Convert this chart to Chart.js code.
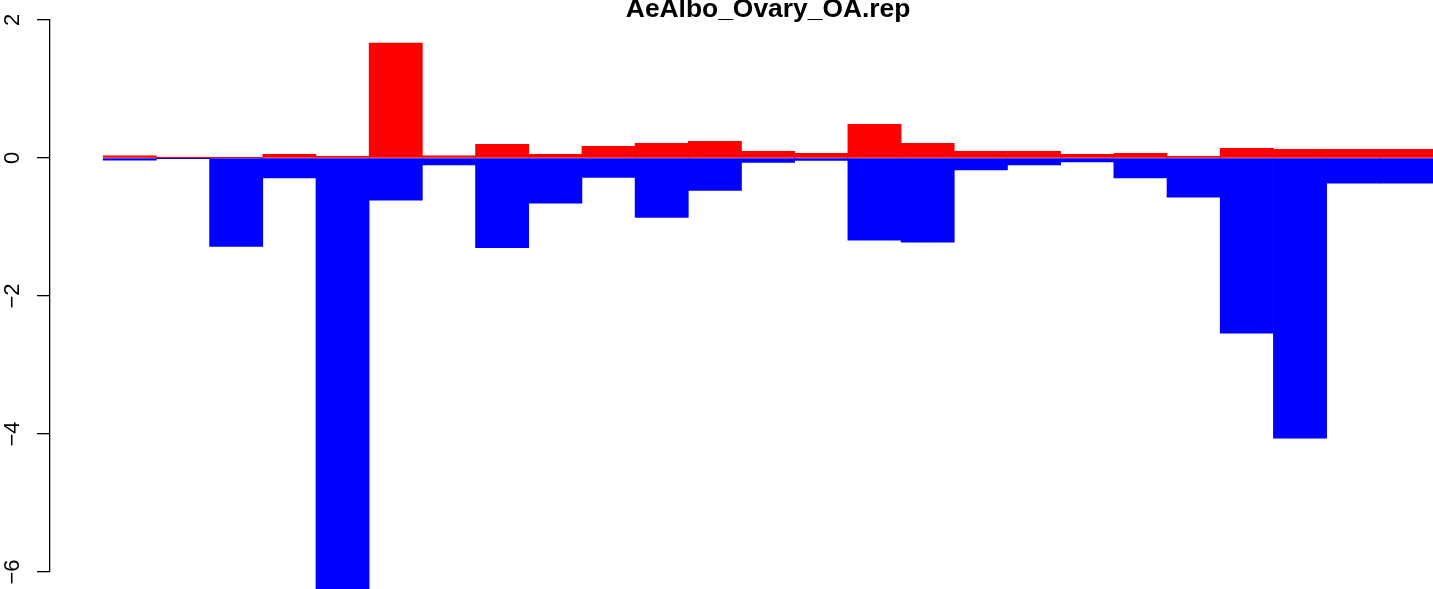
<!DOCTYPE html>
<html>
<head>
  <title>AeAlbo_Ovary_OA.rep</title>
  <script src="https://cdn.jsdelivr.net/npm/chart.js@4/dist/chart.umd.min.js"></script>
  <style>
    body { margin: 0; background: #fff; }
    canvas { display: block; }
  </style>
</head>
<body>
  <canvas id="chart" width="1433" height="589"></canvas>

  <script>
    const title = 'AeAlbo_Ovary_OA.rep';

    // one entry per bar, left to right
    const upValues = [0.03, 0.004, 0.004, 0.053, 0.026, 1.664, 0.03, 0.198, 0.053, 0.169,
                      0.213, 0.242, 0.097, 0.068, 0.489, 0.213, 0.097, 0.097, 0.053, 0.068,
                      0.024, 0.140, 0.126, 0.126, 0.126];
    const downValues = [-0.033, -0.004, -1.28, -0.29, -6.3, -0.61, -0.10, -1.30, -0.653, -0.281,
                        -0.861, -0.469, -0.063, -0.034, -1.19, -1.22, -0.174, -0.102, -0.058, -0.29,
                        -0.566, -2.54, -4.06, -0.363, -0.363];
    const yTicks = [-6, -4, -2, 0, 2];

    const font = '"Liberation Sans", Arial, Helvetica, sans-serif';

    const points = vals => vals.map((v, i) => ({x: i + 0.5, y: v}));

    const make_dataset = (vals, color) => ({
      data: points(vals),
      backgroundColor: color,
      borderWidth: 0,
      grouped: false,
      barPercentage: 1,
      categoryPercentage: 1,
      clip: false,
    });

    // R style main title, centred over the bars
    const mainTitle = {
      id: 'mainTitle',
      afterDraw(chart) {
        const ctx = chart.ctx;
        const n = upValues.length;
        ctx.save();
        ctx.font = 'bold 26.4px ' + font;
        ctx.fillStyle = '#000';
        ctx.textAlign = 'center';
        ctx.textBaseline = 'alphabetic';
        ctx.fillText(title, chart.scales.x.getPixelForValue(n / 2), 16.7);
        ctx.restore();
      }
    };

    new Chart(document.getElementById('chart'), {
      type: 'bar',
      data: {
        datasets: [make_dataset(upValues, '#ff0000'), make_dataset(downValues, '#0000ff')]
      },
      options: {
        responsive: false,
        animation: false,
        layout: {padding: {top: 20, bottom: 17, left: 0, right: 0}},
        plugins: {legend: {display: false}, tooltip: {enabled: false}, title: {display: false}},
        scales: {
          x: {
            type: 'linear',
            display: false,
            offset: false,
            min: -1,
            max: upValues.length,
            ticks: {stepSize: 1},
          },
          y: {
            min: yTicks[0],
            max: yTicks[yTicks.length - 1],
            afterBuildTicks: scale => { scale.ticks = yTicks.map(v => ({value: v})); },
            afterFit: scale => {
              scale.width = 50;
              scale.paddingTop = 0;
              scale.paddingBottom = 0;
            },
            grid: {drawOnChartArea: false, drawTicks: true, tickLength: 13, color: '#000', lineWidth: 1.3},
            border: {display: true, color: '#000', width: 1.3},
            ticks: {
              color: '#000',
              font: {family: font, size: 22},
              minRotation: 90,
              maxRotation: 90,
              crossAlign: 'center',
              padding: 11.5,
              callback: v => String(v).replace('-', '\u2212'),
            },
          },
        },
      },
      plugins: [mainTitle],
    });
  </script>
</body>
</html>
